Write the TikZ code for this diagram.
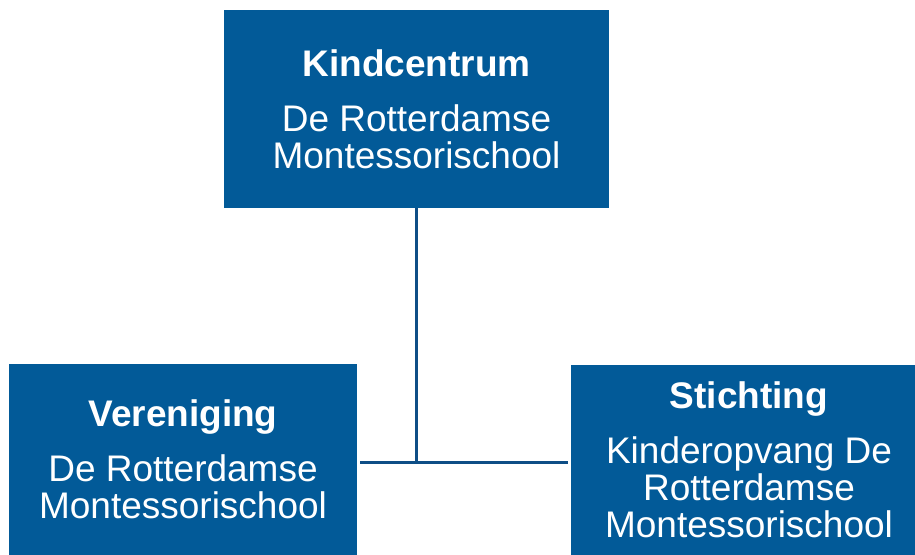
\documentclass[tikz,border=0pt]{standalone}
\usepackage{fontspec}
\setmainfont{Liberation Sans}
\definecolor{boxblue}{RGB}{2,90,152}
\definecolor{lineblue}{RGB}{14,78,134}
\begin{document}
\begin{tikzpicture}[x=1pt,y=-1pt,
  orgbox/.style={fill=boxblue,draw=none,inner sep=0pt,text=white,align=center,
    font=\fontsize{37}{37}\selectfont},
  link/.style={draw=lineblue,line width=3pt}]
\useasboundingbox (0,0) rectangle (915,554);
\node[orgbox,minimum width=385pt,minimum height=198pt] (top) at (416.5,109)
  {\textbf{Kindcentrum}\\[18pt]De Rotterdamse\\Montessorischool};
\node[orgbox,minimum width=348pt,minimum height=191pt] (left) at (183,459)
  {\textbf{Vereniging}\\[18pt]De Rotterdamse\\Montessorischool};
\node[orgbox,minimum width=344pt,minimum height=191pt] (right) at (743,460)
  {\hspace*{12pt}\textbf{Stichting}\\[18pt]\hspace*{12pt}Kinderopvang De\\\hspace*{12pt}Rotterdamse\\\hspace*{12pt}Montessorischool};
\coordinate (j) at (416,462.5);
\draw[link] (top.south -| j) -- (j);
\draw[link,shorten <=3pt,shorten >=3pt] (left.east |- j) -- (right.west |- j);
\end{tikzpicture}
\end{document}
